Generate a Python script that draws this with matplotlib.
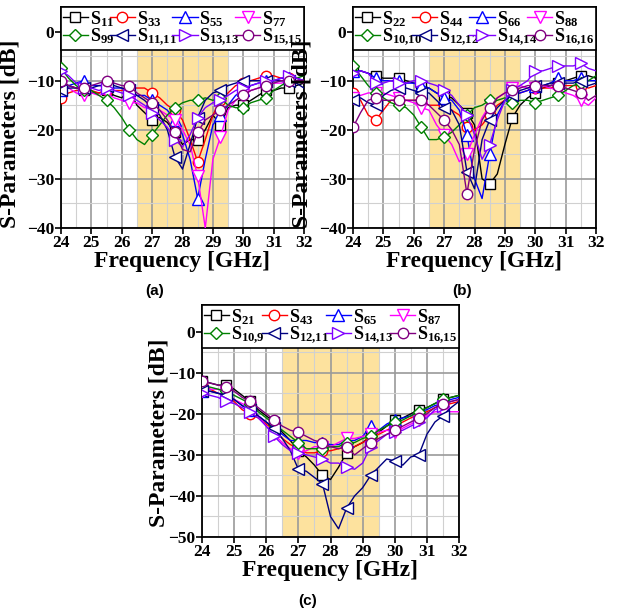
import numpy as np
import matplotlib
matplotlib.use('Agg')
import matplotlib.pyplot as plt
from matplotlib.ticker import MultipleLocator

plt.rcParams['font.family'] = 'Liberation Serif'
plt.rcParams['font.weight'] = 'bold'
plt.rcParams['mathtext.fontset'] = 'custom'
plt.rcParams['mathtext.rm'] = 'Liberation Serif:bold'
plt.rcParams['mathtext.bf'] = 'Liberation Serif:bold'
plt.rcParams['mathtext.it'] = 'Liberation Serif:bold'

# frequency grid, 0.25 GHz
freq = np.arange(24, 32.01, 0.25)

# ---- (a) reflection, odd ports
a_labels = ['11', '33', '55', '77', '99', '11,11', '13,13', '15,15']
s11 = [-11, -11, -11.5, -12, -12.5, -12.5, -12, -13, -13.5, -12, -15, -16.5, -18, -17.5, -18.5, -20.5, -23,
       -22, -22, -20, -17, -19, -15.5, -15, -15, -14, -13, -12, -12, -11.5, -11.5, -11, -10.5]
s33 = [-13.5, -12.5, -12, -12, -12, -12.5, -12, -12, -12, -11.5, -11.5, -11.5, -12.5, -13.5, -15, -16, -18,
       -22, -26.5, -22, -17, -14, -12.5, -11, -10.5, -10, -9.5, -9, -9, -9.5, -9.5, -9.5, -10]
s55 = [-12, -11, -10.5, -10, -11, -11, -11, -11.5, -11.5, -12.5, -13, -13, -14, -15, -16, -18, -21,
       -26, -34, -26, -19, -17, -15, -13, -12, -11, -10.5, -10, -10, -9.5, -9.5, -9.5, -10]
s77 = [-11, -11.5, -12.5, -13, -12.5, -13, -12.5, -13.5, -14, -14.5, -14.5, -15.5, -15.5, -16, -17, -18, -20,
       -23, -29.5, -40, -26, -21.5, -16, -14, -13, -12, -11.5, -11, -10.5, -10.5, -10, -10, -10.5]
s99 = [-7.5, -9.5, -11, -12, -12, -13, -14, -15.5, -17.5, -20, -22, -23, -21, -19, -17, -15.5, -14.5,
       -14, -14, -13.5, -14, -13.5, -15, -15.5, -15.5, -14.5, -14, -13.5, -12, -11, -10, -9.5, -9]
s11_11 = [-12, -11.5, -11.5, -11.5, -11.5, -11, -11, -11, -11.5, -12, -13, -14, -15.5, -17, -20, -25.5, -28,
          -23, -17.5, -14, -12.5, -12, -11, -10.5, -10, -10, -10, -10, -10, -10, -10, -10.5, -11.5]
s13_13 = [-8, -9, -10.5, -11.5, -11.5, -12, -11.5, -12, -12.5, -13, -14, -15, -16.5, -18, -19.5, -22, -23.5,
          -21, -17.5, -15.5, -14.5, -14, -13, -12, -11.5, -11, -10.5, -10, -10, -9.5, -9, -9.5, -10]
s15_15 = [-10, -11, -11.5, -11.5, -11, -10.5, -10, -10.5, -11, -11, -12.5, -13.5, -14.5, -16, -18, -20.5, -24,
          -24.5, -20.5, -18, -17, -16, -15, -14, -13, -12, -11.5, -11, -10.5, -10, -10, -10, -10]
a_data = [s11, s33, s55, s77, s99, s11_11, s13_13, s15_15]

# ---- (b) reflection, even ports
b_labels = ['22', '44', '66', '88', '10,10', '12,12', '14,14', '16,16']
s22 = [-8, -8, -8.5, -9, -9.5, -9.5, -9.5, -10, -10.5, -11, -11.5, -12.5, -13, -13.5, -15, -16.5, -19,
       -30, -31, -29, -23, -17.5, -15, -13.5, -12.5, -11.5, -11, -10.5, -10, -9.5, -9, -9, -9.5]
s44 = [-12.5, -14, -17, -18, -16, -14, -14, -14, -14, -14, -15, -15, -15, -16, -17, -19.5, -20,
       -19, -17, -15, -14, -13, -12.5, -12, -11.5, -11.5, -11.5, -11, -11, -11, -11, -11.5, -11]
s66 = [-8, -8, -8.5, -9.5, -10, -10, -10, -10.5, -10.5, -11, -11.5, -12.5, -13.5, -14, -16, -21, -30,
       -34, -25, -17, -14, -13, -12.5, -12, -11, -11, -10.5, -9.5, -10, -10, -9.5, -10, -10]
s88 = [-13.5, -13, -12.5, -12.5, -12.5, -13, -13.5, -14, -14.5, -15.5, -16, -19, -21, -23, -26.5, -25, -21,
       -17.5, -15, -13.5, -12.5, -11.5, -11, -11.5, -11.5, -11, -11.5, -12, -12.5, -13, -14, -15, -13.5]
s10_10 = [-7, -9, -11, -12.5, -13.5, -14.5, -15, -15.5, -17, -19.5, -22, -22, -21.5, -20.5, -19, -17, -15.5,
          -15, -14, -14, -13.5, -14.5, -14, -14, -14.5, -14, -13.5, -13, -12, -11, -10.5, -10, -9]
s12_12 = [-14, -13.5, -14.5, -15, -13, -12, -11.5, -11.5, -12, -12.5, -12.5, -14, -15.5, -16, -19, -28.5, -32,
          -22, -18, -15.5, -14, -13, -12, -11.5, -11, -11, -10.5, -10.5, -10.5, -10.5, -10, -11, -10.5]
s14_14 = [-8.5, -8, -8.5, -10.5, -10.5, -10, -10.5, -10.5, -10, -10, -10.5, -11, -12, -13, -15, -17, -21,
          -26, -23, -18, -14, -12, -11, -10, -8, -8, -7.5, -7, -7, -7, -6.5, -7.5, -8]
s16_16 = [-19.5, -16.5, -14, -13.5, -14, -14, -14, -14, -14, -14, -15, -16.5, -18, -20, -23, -33, -24,
          -18, -15.5, -13.5, -12.5, -12, -11.5, -11, -11, -11, -11, -11, -11.5, -12, -12.5, -14, -13]
b_data = [s22, s44, s66, s88, s10_10, s12_12, s14_14, s16_16]

# ---- (c) coupling
c_labels = ['21', '43', '65', '87', '10,9', '12,11', '14,13', '16,15']
s21 = [-12, -12.5, -13, -13, -14, -15.5, -17, -19, -20.5, -22, -24.5, -26.5, -29, -30.5, -32.5, -35, -36,
       -33, -29.5, -28, -27, -25.5, -24.5, -23, -21.5, -21, -20, -19, -18.5, -17.5, -16.5, -16, -15.5]
s43 = [-13, -14, -15, -15.5, -17, -19, -20, -21, -22.5, -24, -26, -27.5, -28.5, -29.5, -29.5, -29, -29,
       -28.5, -28, -28, -27, -26, -25, -24, -23, -22, -21, -20, -19.5, -18.5, -18, -17.5, -17]
s65 = [-14.5, -14.5, -15, -15.5, -16.5, -18, -19, -20.5, -22, -23.5, -25, -26.5, -26.5, -26.5, -27, -27, -27.5,
       -27.5, -26.5, -26.5, -25.5, -23, -24, -22.5, -21.5, -21, -20.5, -19.5, -19, -18, -17.5, -16.5, -16]
s87 = [-14.5, -14, -14, -15, -16.5, -17.5, -18.5, -20.5, -23, -25, -27, -28.5, -29.5, -29, -28, -28, -28,
       -27, -26, -26, -25.5, -25, -24.5, -24, -24.5, -23.5, -22.5, -21.5, -20.5, -19.5, -19.5, -19.5, -19.5]
s10_9 = [-13.5, -13.5, -14, -14.5, -15.5, -16.5, -17.5, -19.5, -21, -22.5, -24, -25.5, -27, -28.5, -28.5, -28.5, -28,
         -28, -27, -27, -26, -25.5, -24, -23, -22, -21.5, -20.5, -19.5, -18.5, -17.5, -16.5, -16, -15.5]
s12_11 = [-14.5, -14.5, -15, -15.5, -16.5, -18, -19, -20.5, -22, -23.5, -26, -29, -33.5, -34, -35.5, -37, -45,
          -48, -43, -40, -38, -35, -33, -31, -31.5, -32.5, -30.5, -30, -25, -22, -20.5, -18.5, -17]
s14_13 = [-15, -15.5, -16, -17, -17.5, -18.5, -19.5, -21, -23, -25.5, -27.5, -29, -29.5, -30, -30.5, -31, -32,
          -32, -33, -33.5, -32, -28, -26.5, -25, -24.5, -24, -23, -22, -21, -19, -18, -17, -16.5]
s16_15 = [-12, -12.5, -13, -13.5, -14.5, -16, -17, -18.5, -20, -21.5, -23, -24, -24.5, -25.5, -26.5, -27, -28,
          -28.5, -28, -30, -28.5, -27, -26, -25, -24, -23, -22, -21, -20, -18.5, -17.5, -17, -16.5]
c_data = [s21, s43, s65, s87, s10_9, s12_11, s14_13, s16_15]

colors = ['black', '#FF0000', '#0000FF', '#FF00FF', '#008000', '#000080', '#8000FF', '#800080']
markers = ['s', 'o', '^', 'v', 'D', '<', '>', 'o']
msizes = [7, 7.5, 8, 8, 6.5, 8, 8, 7.5]

fig = plt.figure(figsize=(6.17, 6.10), dpi=100)
ax_a = fig.add_axes([61/617, 1-228/610, 243/617, 221/610])
ax_b = fig.add_axes([353/617, 1-228/610, 243/617, 221/610])
ax_c = fig.add_axes([202/617, 1-537/610, 257/617, 232/610])


def draw(ax, data, labels, ylo, yhi, ystep, ylab_x, ylab_y):
    ax.axvspan(26.5, 29.5, color='#FDE29E', zorder=0, lw=0)
    handles = []
    for i, (y, lab) in enumerate(zip(data, labels)):
        sub = lab.replace(',', '{,}')
        h, = ax.plot(freq, y, color=colors[i], lw=1.0, marker=markers[i], ms=msizes[i],
                     mfc='white', mec=colors[i], mew=1.0, markevery=3,
                     label=r'$\mathregular{S_{' + sub + '}}$', zorder=3)
        handles.append(h)
    ax.set_xlim(24, 32)
    ax.set_ylim(ylo, yhi)
    ax.xaxis.set_major_locator(MultipleLocator(1))
    ax.xaxis.set_minor_locator(MultipleLocator(0.5))
    ax.yaxis.set_major_locator(MultipleLocator(ystep))
    ax.yaxis.set_minor_locator(MultipleLocator(ystep / 2))
    ax.grid(which='major', color='#9a9a9a', lw=1.2, zorder=1)
    ax.grid(which='minor', color='#d0d0d0', lw=0.8, zorder=1)
    ax.set_axisbelow(True)
    ax.tick_params(which='major', direction='out', length=4, width=1.2, labelsize=12.5, pad=1)
    ax.tick_params(which='minor', length=0)
    for sp in ax.spines.values():
        sp.set_linewidth(1.3)
    ax.set_xlabel('Frequency [GHz]', fontsize=17, fontweight='bold', labelpad=0)
    ax.set_ylabel('S-Parameters [dB]', fontsize=17, fontweight='bold')
    ax.yaxis.set_label_coords(ylab_x, ylab_y)
    # legend is filled row by row
    order = [0, 4, 1, 5, 2, 6, 3, 7]
    leg = ax.legend([handles[k] for k in order], [handles[k].get_label() for k in order],
                    ncol=4, loc='upper left', bbox_to_anchor=(0, 1, 1, 0), mode='expand',
                    borderaxespad=0, fontsize=13, handlelength=1.4, handletextpad=0.1,
                    columnspacing=0.2, labelspacing=-0.1, borderpad=0.1,
                    fancybox=False, framealpha=1, edgecolor='black')
    leg.get_frame().set_linewidth(1.2)
    leg.set_zorder(5)


draw(ax_a, a_data, a_labels, -40, 5, 10, -0.165, 0.425)
draw(ax_b, b_data, b_labels, -40, 5, 10, -0.165, 0.425)
draw(ax_c, c_data, c_labels, -50, 6.5, 10, -0.125, 0.45)

fig.text(155/617, 1-291/610, '(a)', family='Liberation Sans', fontweight='bold', fontsize=11, ha='center', va='center')
fig.text(462/617, 1-291/610, '(b)', family='Liberation Sans', fontweight='bold', fontsize=11, ha='center', va='center')
fig.text(308/617, 1-601/610, '(c)', family='Liberation Sans', fontweight='bold', fontsize=11, ha='center', va='center')

fig.savefig('out.png', dpi=100)
